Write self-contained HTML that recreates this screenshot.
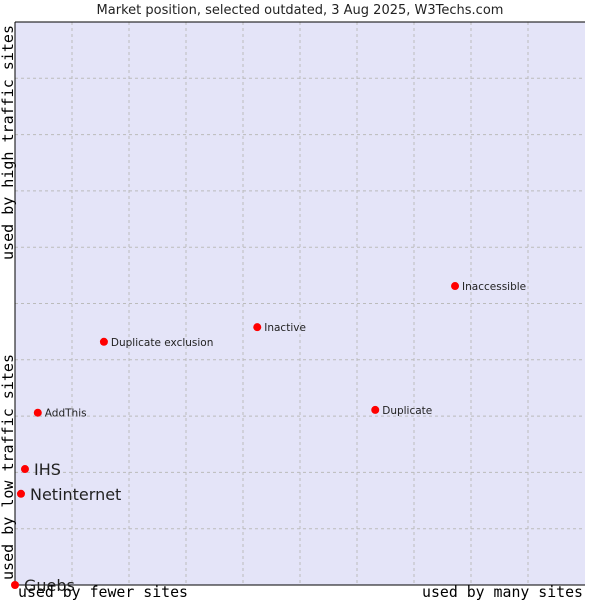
<!DOCTYPE html>
<html><head><meta charset="utf-8"><style>
body{margin:0;background:#fff;}
svg{display:block;font-family:"DejaVu Sans","Liberation Sans",sans-serif;}
.mono{font-family:"DejaVu Sans Mono","Liberation Mono",monospace;font-size:15px;fill:#000;}
</style></head><body>
<svg id="chart" width="600" height="600">
<text x="300" y="14" text-anchor="middle" font-size="13" fill="#222">Market position, selected outdated, 3 Aug 2025, W3Techs.com</text>
<rect x="15" y="22" width="570" height="563" fill="#e4e4f8"/>
<g id="grid"></g>
<line x1="15" y1="22" x2="585" y2="22" stroke="#000"/>
<line x1="15" y1="22" x2="15" y2="585" stroke="#000"/>
<line x1="15" y1="585" x2="585" y2="585" stroke="#000"/>
<g id="points"></g>
<text class="mono" x="18" y="597" textLength="170" lengthAdjust="spacingAndGlyphs">used by fewer sites</text>
<text class="mono" x="422" y="597" textLength="161" lengthAdjust="spacingAndGlyphs">used by many sites</text>
<text class="mono" transform="translate(13,580) rotate(-90)" textLength="226" lengthAdjust="spacingAndGlyphs">used by low traffic sites</text>
<text class="mono" transform="translate(13,260) rotate(-90)" textLength="235" lengthAdjust="spacingAndGlyphs">used by high traffic sites</text>
</svg>
<script>
const names=["Guebs","Netinternet","IHS","AddThis","Duplicate exclusion","Inactive","Duplicate","Inaccessible"];
const xVals=[0,1.05,1.75,4.0,15.6,42.5,63.2,77.2];
const yVals=[0,16.2,20.6,30.6,43.2,45.8,31.1,53.1];
const bigLabel=[true,true,true,false,false,false,false,false];
const L=15,R=585,T=22,B=585;
const sx=v=>L+v/100*(R-L);
const sy=v=>B-v/100*(B-T);
const ns="http://www.w3.org/2000/svg";
const grid=document.getElementById('grid');
for(let i=1;i<10;i++){
  const gx=document.createElementNS(ns,'line');
  gx.setAttribute('x1',sx(i*10));gx.setAttribute('x2',sx(i*10));gx.setAttribute('y1',T);gx.setAttribute('y2',B);
  gx.setAttribute('stroke','#bbb');gx.setAttribute('stroke-dasharray','3,3');
  
  
  grid.appendChild(gx);
  const gy=document.createElementNS(ns,'line');
  gy.setAttribute('y1',sy(i*10));gy.setAttribute('y2',sy(i*10));gy.setAttribute('x1',L);gy.setAttribute('x2',R);
  gy.setAttribute('stroke','#bbb');gy.setAttribute('stroke-dasharray','3,3');
  
  
  grid.appendChild(gy);
}
const pts=document.getElementById('points');
names.forEach((n,i)=>{
  const x=sx(xVals[i]),y=sy(yVals[i]);
  const c=document.createElementNS(ns,'circle');
  c.setAttribute('cx',x);c.setAttribute('cy',y);c.setAttribute('r',4);c.setAttribute('fill','#f00');
  
  
  pts.appendChild(c);
  const t=document.createElementNS(ns,'text');
  t.setAttribute('x',x+(bigLabel[i]?9:7));
  t.setAttribute('y',y+(bigLabel[i]?6:4));
  t.setAttribute('font-size',bigLabel[i]?16:10.5);
  t.setAttribute('fill','#222');
  t.textContent=n;
  
  
  pts.appendChild(t);
});
</script>
</body></html>
